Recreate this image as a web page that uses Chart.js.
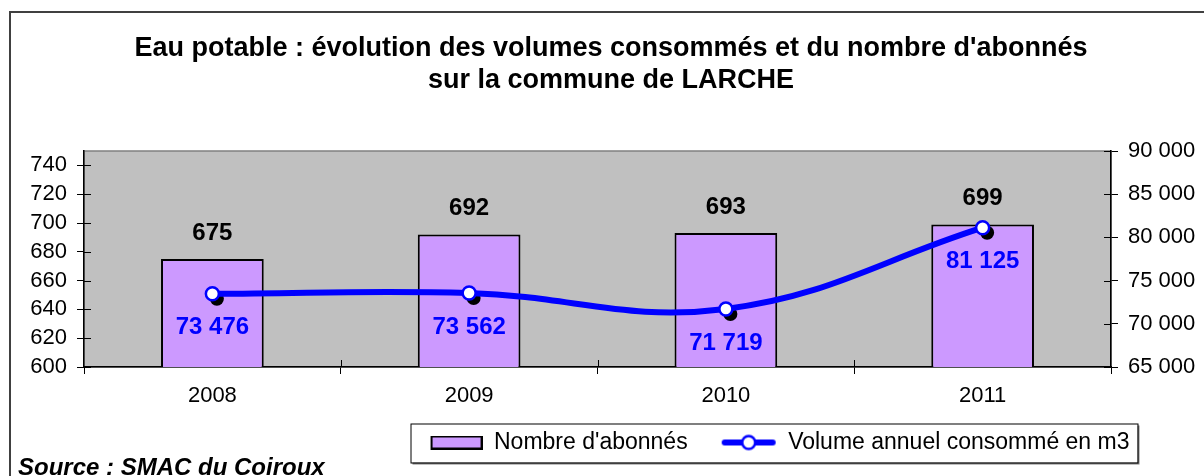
<!DOCTYPE html>
<html lang="fr">
<head>
<meta charset="utf-8">
<title>Eau potable - LARCHE</title>
<script src="https://cdn.jsdelivr.net/npm/chart.js@4.4.1/dist/chart.umd.min.js"></script>
<style>
  html, body { margin: 0; padding: 0; background: #fff; }
  #wrap { width: 1204px; height: 476px; }
</style>
</head>
<body>
<div id="wrap"><canvas id="chart" width="1204" height="476"></canvas></div>
<script>
// data
const years = ["2008", "2009", "2010", "2011"];
const abonnes = [675, 692, 693, 699];
const volumes = [73476, 73562, 71719, 81125];

const leftTicks = { min: 600, max: 750, step: 20 };
const rightTicks = { min: 65000, max: 90000, step: 5000 };

const BAR_FILL = "#cc99ff";
const LINE_BLUE = "#0000ff";
const PLOT_GREY = "#c0c0c0";
const FONT = "'Liberation Sans', Arial, sans-serif";
const TICK_SIZE = 22;

Chart.defaults.font.family = FONT;
Chart.defaults.color = "#000";

function spaced(n) {
  return String(n).replace(/\B(?=(\d{3})+(?!\d))/g, " ");
}

// legend symbols, drawn flush right in a 70px slot
const ICON_W = 70;

function barIcon() {
  const c = document.createElement("canvas");
  c.width = ICON_W; c.height = 14;
  const g = c.getContext("2d");
  g.fillStyle = BAR_FILL;
  g.fillRect(ICON_W - 51, 1, 50, 12);
  g.strokeStyle = "#000";
  g.lineWidth = 2;
  g.strokeRect(ICON_W - 51, 1, 50, 12);
  return c;
}

function lineIcon() {
  const c = document.createElement("canvas");
  c.width = ICON_W; c.height = 18;
  const g = c.getContext("2d");
  const x0 = ICON_W - 52, x1 = ICON_W - 4, mid = (x0 + x1) / 2;
  g.strokeStyle = LINE_BLUE;
  g.lineWidth = 6;
  g.lineCap = "round";
  g.beginPath(); g.moveTo(x0, 9); g.lineTo(x1, 9); g.stroke();
  g.beginPath(); g.arc(mid, 9, 6.5, 0, Math.PI * 2);
  g.fillStyle = "#fff"; g.fill();
  g.lineWidth = 2.5; g.stroke();
  return c;
}

const LEGEND_SHIFT = 160;

const decor = {
  id: "decor",
  afterLayout(chart) {
    const lg = chart.legend;
    lg.left += LEGEND_SHIFT;
    lg.right += LEGEND_SHIFT;
  },
  beforeDraw(chart) {
    const { ctx, chartArea: a } = chart;
    ctx.save();
    // outer frame (only left and top edges are in view)
    ctx.strokeStyle = "#404040";
    ctx.lineWidth = 2;
    ctx.beginPath();
    ctx.moveTo(10, 480); ctx.lineTo(10, 12); ctx.lineTo(1210, 12);
    ctx.stroke();

    // plot background
    ctx.fillStyle = PLOT_GREY;
    ctx.fillRect(a.left, a.top, a.width, a.height);
    ctx.strokeStyle = "#808080";
    ctx.lineWidth = 1.5;
    ctx.strokeRect(a.left, a.top, a.width, a.height);

    // legend frame with its shadow
    const hb = chart.legend.legendHitBoxes;
    if (hb && hb.length) {
      const last = hb[hb.length - 1];
      const cy = hb[0].top + hb[0].height / 2;
      const x0 = hb[0].left - 2;
      const x1 = last.left + last.width + 8;
      const y0 = cy - 19, y1 = cy + 20;
      ctx.fillStyle = "#7f7f7f";
      ctx.fillRect(x0 + 2, y0 + 2, x1 - x0, y1 - y0);
      ctx.fillStyle = "#fff";
      ctx.fillRect(x0, y0, x1 - x0, y1 - y0);
      ctx.strokeStyle = "#000";
      ctx.lineWidth = 1;
      ctx.strokeRect(x0 + 0.5, y0 + 0.5, x1 - x0, y1 - y0);
    }
    ctx.restore();
  },
  beforeDatasetDraw(chart, args) {
    if (chart.data.datasets[args.index].type !== "line") return;
    const ctx = chart.ctx;
    ctx.save();
    ctx.fillStyle = "#000";
    args.meta.data.forEach(pt => {
      ctx.beginPath();
      ctx.arc(pt.x + 4.5, pt.y + 5, 7, 0, Math.PI * 2);
      ctx.fill();
    });
    ctx.restore();
  },
  afterDatasetsDraw(chart) {
    const ctx = chart.ctx;
    ctx.save();
    ctx.textAlign = "center";
    ctx.textBaseline = "middle";
    ctx.font = "bold 24px " + FONT;
    chart.getDatasetMeta(1).data.forEach((bar, i) => {
      ctx.fillStyle = "#000";
      ctx.fillText(String(abonnes[i]), bar.x, bar.y - 26);
    });
    chart.getDatasetMeta(0).data.forEach((pt, i) => {
      ctx.fillStyle = LINE_BLUE;
      ctx.fillText(spaced(volumes[i]), pt.x, pt.y + 34);
    });
    ctx.restore();
  },
  afterDraw(chart) {
    // inner half of the crossing tick marks
    const { ctx, chartArea: a } = chart;
    const yl = chart.scales.y, yr = chart.scales.y2, x = chart.scales.x;
    ctx.save();
    ctx.strokeStyle = "#000";
    ctx.lineWidth = 1;
    ctx.beginPath();
    yl.ticks.forEach((t, i) => {
      const py = Math.round(yl.getPixelForTick(i)) + 0.5;
      ctx.moveTo(a.left, py); ctx.lineTo(a.left + 7, py);
    });
    yr.ticks.forEach((t, i) => {
      const py = Math.round(yr.getPixelForTick(i)) + 0.5;
      ctx.moveTo(a.right, py); ctx.lineTo(a.right - 7, py);
    });
    for (let i = 1; i < years.length; i++) {
      const px = Math.round((x.getPixelForTick(i - 1) + x.getPixelForTick(i)) / 2) + 0.5;
      ctx.moveTo(px, a.bottom); ctx.lineTo(px, a.bottom - 7);
    }
    ctx.stroke();
    ctx.restore();
  }
};

new Chart(document.getElementById("chart"), {
  data: {
    labels: years,
    datasets: [
      {
        type: "line",
        label: "Volume annuel consommé en m3",
        data: volumes,
        yAxisID: "y2",
        order: 0,
        borderColor: LINE_BLUE,
        borderWidth: 6,
        tension: 0.4,
        pointRadius: 6.5,
        pointBorderWidth: 2.5,
        pointBackgroundColor: "#fff",
        pointBorderColor: LINE_BLUE
      },
      {
        type: "bar",
        label: "Nombre d'abonnés",
        data: abonnes,
        yAxisID: "y",
        order: 1,
        backgroundColor: BAR_FILL,
        borderColor: "#000",
        borderWidth: 2,
        borderSkipped: false,
        barPercentage: 0.4,
        categoryPercentage: 1
      }
    ]
  },
  options: {
    responsive: false,
    animation: false,
    layout: { padding: { left: 18, right: 0, top: 0, bottom: 0 } },
    scales: {
      x: {
        offset: true,
        afterFit: s => { s.height = 45; },
        grid: { offset: true, drawOnChartArea: false, tickLength: 7, color: "#000" },
        border: { color: "#000", width: 1.5 },
        ticks: { font: { size: TICK_SIZE }, padding: 9, color: "#000" }
      },
      y: {
        position: "left",
        min: leftTicks.min,
        max: leftTicks.max,
        afterFit: s => { s.width = 66; },
        grid: { drawOnChartArea: false, tickLength: 7, color: "#000" },
        border: { color: "#000", width: 1.5 },
        ticks: { stepSize: leftTicks.step, includeBounds: false, font: { size: TICK_SIZE }, padding: 10, color: "#000" }
      },
      y2: {
        position: "right",
        min: rightTicks.min,
        max: rightTicks.max,
        afterFit: s => { s.width = 93; },
        grid: { drawOnChartArea: false, tickLength: 7, color: "#000" },
        border: { color: "#000", width: 1.5 },
        ticks: { stepSize: rightTicks.step, font: { size: TICK_SIZE }, padding: 10, color: "#000", callback: v => spaced(v) }
      }
    },
    plugins: {
      tooltip: { enabled: false },
      title: {
        display: true,
        text: ["Eau potable : évolution des volumes consommés et du nombre d'abonnés", "sur la commune de LARCHE"],
        font: { size: 27, weight: "bold", lineHeight: "32px" },
        color: "#000",
        padding: { top: 33, bottom: 54 }
      },
      subtitle: {
        display: true,
        position: "bottom",
        align: "start",
        text: "Source : SMAC du Coiroux",
        font: { size: 24, weight: "bold", style: "italic", lineHeight: "28px" },
        color: "#000",
        padding: { top: -10, bottom: -6 }
      },
      legend: {
        position: "bottom",
        align: "center",
        labels: {
          font: { size: 23 },
          color: "#000",
          padding: 19,
          usePointStyle: true,
          pointStyleWidth: ICON_W,
          generateLabels: chart => [
            { text: "Nombre d'abonnés", pointStyle: barIcon(), fillStyle: BAR_FILL, strokeStyle: "#000", lineWidth: 0, datasetIndex: 1 },
            { text: "Volume annuel consommé en m3", pointStyle: lineIcon(), fillStyle: LINE_BLUE, strokeStyle: LINE_BLUE, lineWidth: 0, datasetIndex: 0 }
          ]
        }
      }
    }
  },
  plugins: [decor]
});
</script>
</body>
</html>
